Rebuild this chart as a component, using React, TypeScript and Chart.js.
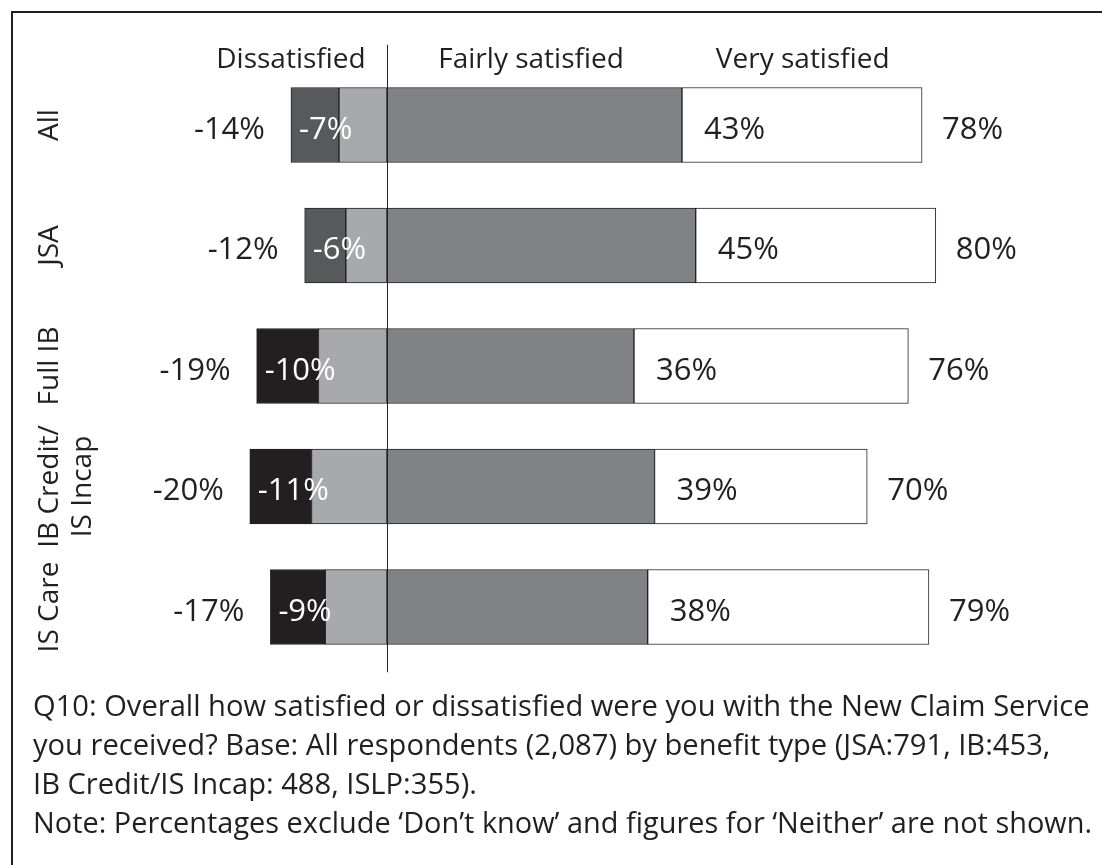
import React, { useEffect, useRef } from 'react';
import { Chart, registerables } from 'chart.js';

Chart.register(...registerables);

// ---- Data ----
const categories: (string | string[])[] = ['All', 'JSA', 'Full IB', ['IB Credit/', 'IS Incap'], 'IS Care'];
const veryDissatisfied = [-7, -6, -9, -9, -8];
const fairlyDissatisfied = [-7, -6, -10, -11, -9];
const fairlySatisfied = [43, 45, 36, 39, 38];
const verySatisfied = [35, 35, 40, 31, 41];
const headerLabels = ['Dissatisfied', 'Fairly satisfied', 'Very satisfied'];
const captionLines = [
  'Q10: Overall how satisfied or dissatisfied were you with the New Claim Service',
  'you received? Base: All respondents (2,087) by benefit type (JSA:791, IB:453,',
  'IB Credit/IS Incap: 488, ISLP:355).',
  'Note: Percentages exclude \u2018Don\u2019t know\u2019 and figures for \u2018Neither\u2019 are not shown.',
];

// ---- Styles ----
const FONT = '"Open Sans", "Noto Sans", sans-serif';
const INK = '#231f20';
const veryDisColors = ['#58595b', '#58595b', '#231f20', '#231f20', '#231f20'];
const W = 1102;
const H = 865;

const pct = (v: number) => `${v}%`;

const overlay = {
  id: 'overlay',
  beforeDraw(chart: any) {
    const ctx = chart.ctx as CanvasRenderingContext2D;
    ctx.save();
    ctx.fillStyle = '#ffffff';
    ctx.fillRect(0, 0, chart.width, chart.height);
    ctx.strokeStyle = INK;
    ctx.lineWidth = 2;
    ctx.beginPath();
    ctx.moveTo(12, chart.height);
    ctx.lineTo(12, 12);
    ctx.lineTo(chart.width, 12);
    ctx.stroke();
    ctx.restore();
  },
  afterDatasetsDraw(chart: any) {
    const ctx = chart.ctx as CanvasRenderingContext2D;
    const { chartArea } = chart;
    const xs = chart.scales.x;
    const ys = chart.scales.y;
    const x0 = xs.getPixelForValue(0);
    ctx.save();

    // zero line
    ctx.strokeStyle = INK;
    ctx.lineWidth = 1;
    ctx.beginPath();
    ctx.moveTo(Math.round(x0) + 0.5, chartArea.top - 20);
    ctx.lineTo(Math.round(x0) + 0.5, chartArea.bottom + 5);
    ctx.stroke();

    // headers
    ctx.fillStyle = INK;
    ctx.font = `28px ${FONT}`;
    ctx.textAlign = 'center';
    ctx.textBaseline = 'alphabetic';
    const headerPos = [-14, 21, 60.6];
    headerLabels.forEach((t, i) => {
      ctx.fillText(t, xs.getPixelForValue(headerPos[i]), 68);
    });

    // value labels
    ctx.font = `31px ${FONT}`;
    ctx.textBaseline = 'middle';
    categories.forEach((_, j) => {
      const cy = ys.getPixelForValue(j) + 5;
      const totDis = veryDissatisfied[j] + fairlyDissatisfied[j];
      const totSat = fairlySatisfied[j] + verySatisfied[j];
      const left = xs.getPixelForValue(totDis);
      const right = xs.getPixelForValue(totSat);
      const boundary = xs.getPixelForValue(fairlySatisfied[j]);

      ctx.fillStyle = INK;
      ctx.textAlign = 'right';
      ctx.fillText(pct(totDis), left - 26, cy);

      ctx.textAlign = 'left';
      ctx.fillText(pct(totSat), right + 20, cy);
      ctx.fillText(pct(fairlySatisfied[j]), boundary + 22, cy);

      ctx.fillStyle = '#ffffff';
      ctx.fillText(pct(fairlyDissatisfied[j]), left + 8, cy);
    });

    // category labels (rotated)
    ctx.fillStyle = INK;
    ctx.font = `28px ${FONT}`;
    ctx.textAlign = 'center';
    ctx.textBaseline = 'alphabetic';
    categories.forEach((c, j) => {
      const cy = ys.getPixelForValue(j);
      const lines = Array.isArray(c) ? c : [c];
      lines.forEach((ln, k) => {
        ctx.save();
        ctx.translate(58 + k * 33, cy);
        ctx.rotate(-Math.PI / 2);
        ctx.fillText(ln, 0, 0);
        ctx.restore();
      });
    });

    // caption
    ctx.textAlign = 'left';
    ctx.textBaseline = 'alphabetic';
    ctx.font = `28px ${FONT}`;
    const target = 1057;
    const w0 = ctx.measureText(captionLines[0]).width;
    const size = (28 * target) / w0;
    ctx.font = `${size.toFixed(2)}px ${FONT}`;
    captionLines.forEach((ln, i) => {
      ctx.fillText(ln, 33, 716 + i * 39, target + 2);
    });

    ctx.restore();
  },
};

export default function App() {
  const ref = useRef<HTMLCanvasElement | null>(null);
  useEffect(() => {
    if (!ref.current) return;
    const pxPerPct = 6.86;
    const zeroX = 387;
    const xMin = -40;
    const xMax = 100;
    const padLeft = zeroX + xMin * pxPerPct;
    const padRight = W - (zeroX + xMax * pxPerPct);
    const top = 64.75;
    const bottom = 667.25;
    const border = { borderColor: INK, borderWidth: 1, borderSkipped: false as const };
    const chart = new Chart(ref.current, {
      type: 'bar',
      data: {
        labels: categories as any,
        datasets: [
          { label: 'Fairly dissatisfied', data: fairlyDissatisfied, backgroundColor: '#a7a9ac', ...border },
          { label: 'Very dissatisfied', data: veryDissatisfied, backgroundColor: veryDisColors, ...border },
          { label: 'Fairly satisfied', data: fairlySatisfied, backgroundColor: '#808285', ...border },
          { label: 'Very satisfied', data: verySatisfied, backgroundColor: '#ffffff', ...border },
        ],
      },
      options: {
        indexAxis: 'y',
        responsive: false,
        maintainAspectRatio: false,
        animation: false,
        devicePixelRatio: 1,
        layout: { padding: { left: padLeft, right: padRight, top, bottom: H - bottom } },
        datasets: { bar: { barThickness: 75 } },
        scales: {
          x: { type: 'linear', min: xMin, max: xMax, stacked: true, display: false },
          y: { type: 'category', stacked: true, display: false, offset: true },
        },
        plugins: {
          legend: { display: false },
          tooltip: { enabled: false },
          title: { display: false },
        },
      },
      plugins: [overlay],
    });
    return () => chart.destroy();
  }, []);
  return (
    <div style={{ position: 'fixed', left: 0, top: 0, width: W, height: H, background: '#fff' }}>
      <canvas ref={ref} width={W} height={H} style={{ display: 'block', width: W, height: H }} />
    </div>
  );
}
